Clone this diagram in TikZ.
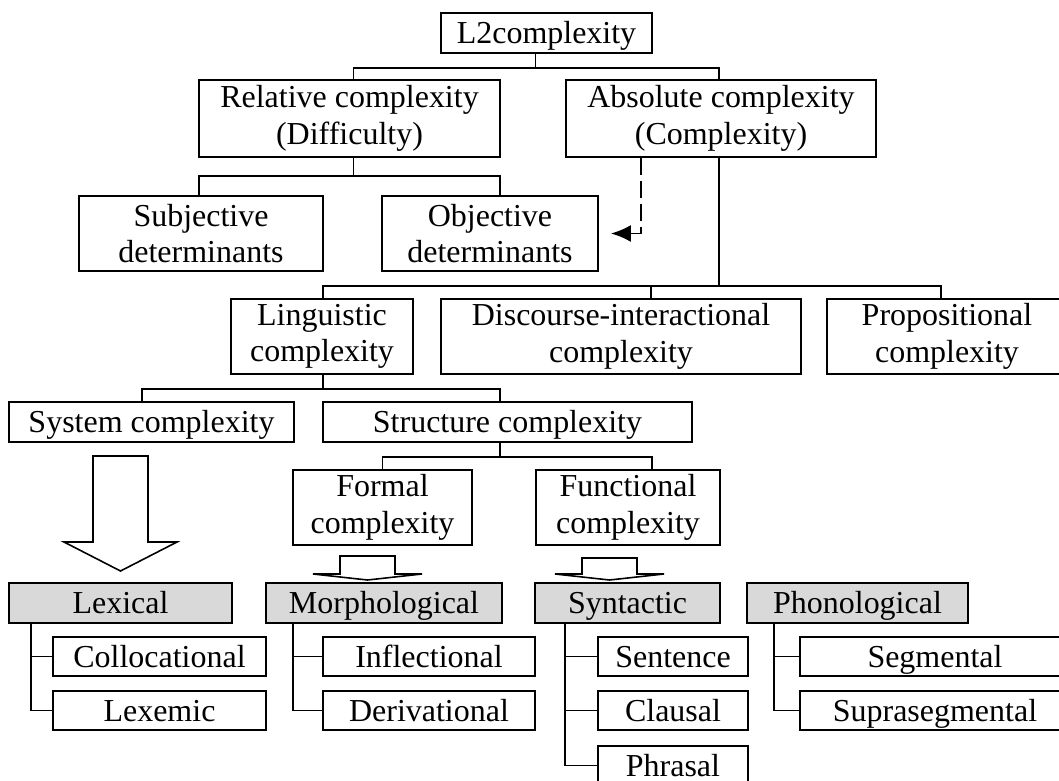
\documentclass[tikz,border=0pt]{standalone}
\usepackage{fontspec}
\setmainfont{Liberation Serif}
\usetikzlibrary{arrows.meta,calc}
\definecolor{boxgray}{RGB}{217,217,217}

\begin{document}
\begin{tikzpicture}[x=0.02cm, y=-0.02cm, line width=1.1pt,
    box/.style={draw, rectangle, inner sep=0pt, align=center, minimum height=1.5cm,
                font=\fontsize{18.2}{20.8}\selectfont},
    onebox/.style={box, minimum height=0.8cm, text height=0.56cm, text depth=0.14cm},
    graybox/.style={onebox, fill=boxgray},
    leafbox/.style={onebox, minimum height=0.78cm},
    dashlink/.style={dash pattern=on 0.34cm off 0.12cm, -{Latex[length=0.4cm,width=0.34cm]}}]
    \useasboundingbox (0,0) rectangle (1059,781);
    \clip (0,0) rectangle (1059,781);

    % upper part of the tree
    \node[onebox, minimum width=4.22cm] (top) at (546.5,33) {L2complexity};
    \node[box, minimum width=6.02cm, minimum height=1.54cm] (rel) at (349.5,118.5) {Relative complexity\\(Difficulty)};
    \node[box, minimum width=6.20cm, minimum height=1.54cm] (abs) at (721,118.5) {Absolute complexity\\(Complexity)};
    \node[box, minimum width=4.88cm] (subj) at (201,233.5) {Subjective\\determinants};
    \node[box, minimum width=4.32cm] (obj) at (490,233.5) {Objective\\determinants};
    \node[box, minimum width=3.64cm] (ling) at (322,336.5) {Linguistic\\complexity};
    \node[box, minimum width=7.20cm] (disc) at (621,336.5) {Discourse-interactional\\complexity};
    \node[box, minimum width=4.80cm] (prop) at (947,336.5) {Propositional\\complexity};
    \node[onebox, minimum width=5.70cm] (sys) at (151.5,422) {System complexity};
    \node[onebox, minimum width=7.38cm] (struct) at (507.5,422) {Structure complexity};
    \node[box, minimum width=3.58cm] (formal) at (382.5,507.5) {Formal\\complexity};
    \node[box, minimum width=3.68cm] (func) at (628,507.5) {Functional\\complexity};

    % domains
    \node[graybox, minimum width=4.46cm] (lex) at (120.5,603) {Lexical};
    \node[graybox, minimum width=4.72cm] (morph) at (384,603) {Morphological};
    \node[graybox, minimum width=3.70cm] (synt) at (627.5,603) {Syntactic};
    \node[graybox, minimum width=4.42cm] (phon) at (857.5,603) {Phonological};

    \node[leafbox, minimum width=4.26cm] (coll) at (159.5,656.5) {Collocational};
    \node[leafbox, minimum width=4.26cm] (lexem) at (159.5,710.5) {Lexemic};
    \node[leafbox, minimum width=4.24cm] (infl) at (429,656.5) {Inflectional};
    \node[leafbox, minimum width=4.24cm] (deriv) at (429,710.5) {Derivational};
    \node[leafbox, minimum width=3.00cm] (sent) at (673,656.5) {Sentence};
    \node[leafbox, minimum width=3.00cm] (claus) at (673,710.5) {Clausal};
    \node[leafbox, minimum width=3.00cm] (phras) at (673,765.5) {Phrasal};
    \node[leafbox, minimum width=5.40cm] (segm) at (935,656.5) {Segmental};
    \node[leafbox, minimum width=5.40cm] (supra) at (935,710.5) {Suprasegmental};

    % tree links
    \draw ($(top.south)+(-11,0)$) -- ++(0,14) -| ($(rel.north)+(4,0)$);
    \draw ($(top.south)+(-11,0)$) -- ++(0,14) -| ($(abs.north)+(-2,0)$);
    \draw ($(rel.south)+(4,0)$) -- ++(0,18) -| ($(subj.north)+(-2,0)$);
    \draw ($(rel.south)+(4,0)$) -- ++(0,18) -| ($(obj.north)+(10,0)$);
    \draw[dashlink] ($(abs.south)+(-80,0)$) |- ($(obj.east)+(12,0)$);
    \draw ($(abs.south)+(-2,0)$) -- ++(0,128) -| ($(ling.north)+(1,0)$);
    \draw ($(abs.south)+(-2,0)$) -- ++(0,128) -| ($(disc.north)+(30,0)$);
    \draw ($(abs.south)+(-2,0)$) -- ++(0,128) -| ($(prop.north)+(-6,0)$);
    \draw ($(ling.south)+(1,0)$) -- ++(0,14) -| ($(sys.north)+(-9.5,0)$);
    \draw ($(ling.south)+(1,0)$) -- ++(0,14) -| ($(struct.north)+(-7.5,0)$);
    \draw ($(struct.south)+(-7.5,0)$) -- ++(0,14) -| (formal.north);
    \draw ($(struct.south)+(-7.5,0)$) -- ++(0,14) -| ($(func.north)+(24,0)$);

    % block arrows
    \draw[line width=0.9pt] (93,456) -- (148,456) -- (148,542) -- (177,542) -- (120.5,571)
        -- (64,542) -- (93,542) -- cycle;
    \draw[line width=0.9pt] (340,556) -- (395,556) -- (395,574) -- (422,574) -- (367.5,580)
        -- (313,574) -- (340,574) -- cycle;
    \draw[line width=0.9pt] (582,558) -- (637,558) -- (637,574) -- (664,574) -- (609.5,580)
        -- (555,574) -- (582,574) -- cycle;

    % sub-types
    \draw ($(lex.south west)+(23,0)$) |- (coll.west);
    \draw ($(lex.south west)+(23,0)$) |- (lexem.west);
    \draw ($(morph.south west)+(28,0)$) |- (infl.west);
    \draw ($(morph.south west)+(28,0)$) |- (deriv.west);
    \draw ($(synt.south west)+(31,0)$) |- (sent.west);
    \draw ($(synt.south west)+(31,0)$) |- (claus.west);
    \draw ($(synt.south west)+(31,0)$) |- (phras.west);
    \draw ($(phon.south west)+(28,0)$) |- (segm.west);
    \draw ($(phon.south west)+(28,0)$) |- (supra.west);
\end{tikzpicture}
\end{document}
